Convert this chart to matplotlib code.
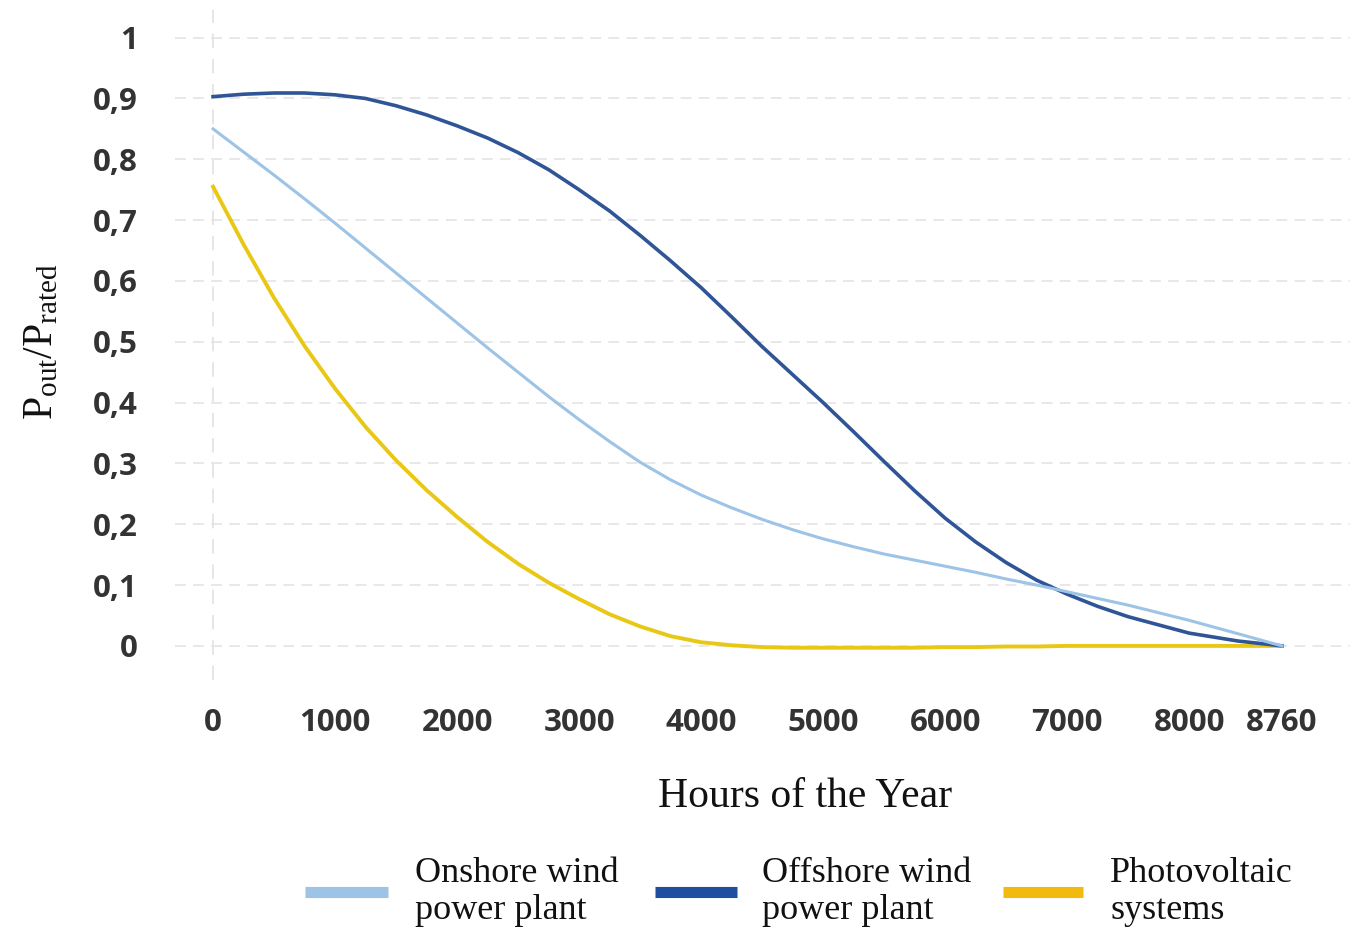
import matplotlib
matplotlib.use("Agg")
import matplotlib.pyplot as plt
from matplotlib.lines import Line2D

hours = [0, 250, 500, 750, 1000, 1250, 1500, 1750, 2000, 2250, 2500, 2750, 3000, 3250, 3500, 3750, 4000,
         4250, 4500, 4750, 5000, 5250, 5500, 5750, 6000, 6250, 6500, 6750, 7000, 7250, 7500, 8000, 8400, 8760]
onshore = [0.85, 0.812, 0.774, 0.735, 0.695, 0.654, 0.613, 0.572, 0.531, 0.49, 0.45, 0.41, 0.372, 0.336, 0.302,
           0.273, 0.248, 0.227, 0.208, 0.191, 0.176, 0.163, 0.151, 0.141, 0.131, 0.121, 0.11, 0.1, 0.089,
           0.078, 0.067, 0.042, 0.02, 0.0]
offshore = [0.903, 0.907, 0.909, 0.909, 0.906, 0.90, 0.888, 0.873, 0.855, 0.835, 0.811, 0.783, 0.75, 0.715, 0.675,
            0.633, 0.589, 0.541, 0.492, 0.446, 0.40, 0.352, 0.303, 0.255, 0.21, 0.171, 0.137, 0.108, 0.085,
            0.065, 0.048, 0.021, 0.008, 0.0]
pv = [0.755, 0.66, 0.572, 0.493, 0.423, 0.36, 0.305, 0.256, 0.212, 0.171, 0.135, 0.104, 0.077, 0.052, 0.032, 0.016,
      0.006, 0.001, -0.002, -0.003, -0.003, -0.003, -0.003, -0.003, -0.002, -0.002, -0.001, -0.001, 0.0,
      0.0, 0.0, 0.0, 0.0, 0.0]

xticks = [0, 1000, 2000, 3000, 4000, 5000, 6000, 7000, 8000, 8760]
yticks = [0, 0.1, 0.2, 0.3, 0.4, 0.5, 0.6, 0.7, 0.8, 0.9, 1.0]
ytick_labels = ["0", "0,1", "0,2", "0,3", "0,4", "0,5", "0,6", "0,7", "0,8", "0,9", "1"]
series_names = ["Onshore wind\npower plant", "Offshore wind\npower plant", "Photovoltaic\nsystems"]
colors = ["#9dc3e6", "#2f5597", "#e9c815"]
legend_colors = ["#9dc3e6", "#1f4ea0", "#f2b90f"]

plt.rcParams['mathtext.fontset'] = 'custom'
plt.rcParams['mathtext.rm'] = 'Liberation Serif'
plt.rcParams['mathtext.it'] = 'Liberation Serif:italic'

fig = plt.figure(figsize=(13.68, 9.34), dpi=100)
ax = fig.add_axes([0.128, 0.272, 0.859, 0.717])

ax.set_xlim(-311, 9320)
ax.set_ylim(-0.056, 1.045)

# grid
for y in yticks:
    ax.axhline(y, color="#e6e6e6", lw=1.3, ls=(0, (6, 4)), zorder=0)
ax.axvline(0, color="#e4e4e4", lw=1.3, ls=(0, (8, 6)), zorder=0)

ax.plot(hours, onshore, color=colors[0], lw=2.2, zorder=3)
ax.plot(hours, offshore, color=colors[1], lw=2.6, zorder=2)
ax.plot(hours, pv, color=colors[2], lw=2.8, zorder=1)

for s in ax.spines.values():
    s.set_visible(False)
ax.set_xticks(xticks)
ax.set_xticklabels([str(t) for t in xticks])
ax.set_yticks(yticks)
ax.set_yticklabels(ytick_labels)
ax.tick_params(length=0)
ax.tick_params(axis='x', pad=20)
ax.tick_params(axis='y', pad=27)
for lab in ax.get_xticklabels() + ax.get_yticklabels():
    lab.set_fontfamily("Open Sans")
    lab.set_fontweight("bold")
    lab.set_fontsize(22.5)
    lab.set_color("#333333")

fig.text(805 / 1368, 1 - 797 / 934, "Hours of the Year", fontfamily="Liberation Serif", fontsize=30,
         ha="center", va="center", color="#111111")
fig.text(40 / 1368, 1 - 342 / 934, r"$\mathrm{P_{out}/P_{rated}}$", rotation=90, fontsize=30,
         ha="center", va="center", color="#111111")

# legend
handle_x = [(305, 388), (655, 737), (1003, 1083)]
text_x = [415, 762, 1110]
for (x0, x1), tx, c, name in zip(handle_x, text_x, legend_colors, series_names):
    fig.add_artist(Line2D([x0 / 1368, x1 / 1368], [1 - 892 / 934, 1 - 892 / 934], color=c, lw=8,
                          solid_capstyle="butt", transform=fig.transFigure))
    fig.text(tx / 1368, 1 - 892 / 934, name, fontfamily="Liberation Serif", fontsize=26,
             ha="left", va="center", linespacing=1.15, color="#111111")

fig.savefig("out.png", dpi=100, facecolor="white")
